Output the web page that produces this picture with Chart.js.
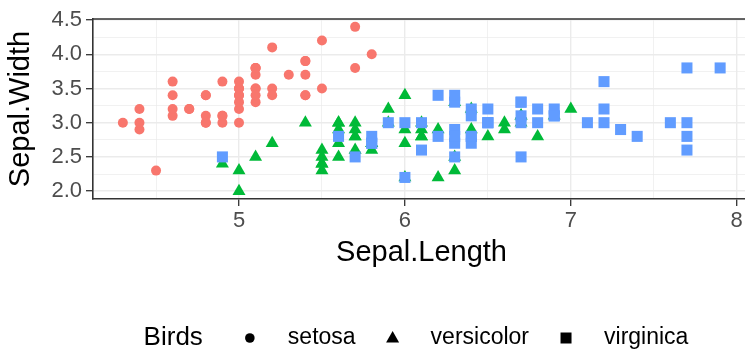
<!DOCTYPE html>
<html>
<head>
<meta charset="utf-8">
<script src="https://cdn.jsdelivr.net/npm/chart.js@4.4.0/dist/chart.umd.min.js"></script>
<style>
  html, body { margin: 0; padding: 0; background: #fff; overflow: hidden; }
</style>
</head>
<body>
<canvas id="canvas" width="760" height="349"></canvas>
<script>
"use strict";

// iris: Sepal.Length / Sepal.Width per species
const species = ["setosa", "versicolor", "virginica"];

const setosaX = [5.1,4.9,4.7,4.6,5.0,5.4,4.6,5.0,4.4,4.9,5.4,4.8,4.8,4.3,5.8,5.7,5.4,5.1,5.7,5.1,5.4,5.1,4.6,5.1,4.8,5.0,5.0,5.2,5.2,4.7,4.8,5.4,5.2,5.5,4.9,5.0,5.5,4.9,4.4,5.1,5.0,4.5,4.4,5.0,5.1,4.8,5.1,4.6,5.3,5.0];
const setosaY = [3.5,3.0,3.2,3.1,3.6,3.9,3.4,3.4,2.9,3.1,3.7,3.4,3.0,3.0,4.0,4.4,3.9,3.5,3.8,3.8,3.4,3.7,3.6,3.3,3.4,3.0,3.4,3.5,3.4,3.2,3.1,3.4,4.1,4.2,3.1,3.2,3.5,3.6,3.0,3.4,3.5,2.3,3.2,3.5,3.8,3.0,3.8,3.2,3.7,3.3];

const versicolorX = [7.0,6.4,6.9,5.5,6.5,5.7,6.3,4.9,6.6,5.2,5.0,5.9,6.0,6.1,5.6,6.7,5.6,5.8,6.2,5.6,5.9,6.1,6.3,6.1,6.4,6.6,6.8,6.7,6.0,5.7,5.5,5.5,5.8,6.0,5.4,6.0,6.7,6.3,5.6,5.5,5.5,6.1,5.8,5.0,5.6,5.7,5.7,6.2,5.1,5.7];
const versicolorY = [3.2,3.2,3.1,2.3,2.8,2.8,3.3,2.4,2.9,2.7,2.0,3.0,2.2,2.9,2.9,3.1,3.0,2.7,2.2,2.5,3.2,2.8,2.5,2.8,2.9,3.0,2.8,3.0,2.9,2.6,2.4,2.4,2.7,2.7,3.0,3.4,3.1,2.3,3.0,2.5,2.6,3.0,2.6,2.3,2.7,3.0,2.9,2.9,2.5,2.8];

const virginicaX = [6.3,5.8,7.1,6.3,6.5,7.6,4.9,7.3,6.7,7.2,6.5,6.4,6.8,5.7,5.8,6.4,6.5,7.7,7.7,6.0,6.9,5.6,7.7,6.3,6.7,7.2,6.2,6.1,6.4,7.2,7.4,7.9,6.4,6.3,6.1,7.7,6.3,6.4,6.0,6.9,6.7,6.9,5.8,6.8,6.7,6.7,6.3,6.5,6.2,5.9];
const virginicaY = [3.3,2.7,3.0,2.9,3.0,3.0,2.5,2.9,2.5,3.6,3.2,2.7,3.0,2.5,2.8,3.2,3.0,3.8,2.6,2.2,3.2,2.8,2.8,2.7,3.3,3.2,2.8,3.0,2.8,3.0,2.8,3.8,2.8,2.8,2.6,3.0,3.4,3.1,3.0,3.1,3.1,3.1,2.7,3.2,3.3,3.0,2.5,3.0,3.4,3.0];

// grid / tick positions (major ones get a label)
const xTicks = [4.5, 5, 5.5, 6, 6.5, 7, 7.5, 8];
const xMajor = [5, 6, 7, 8];
const yTicks = [2, 2.25, 2.5, 2.75, 3, 3.25, 3.5, 3.75, 4, 4.25, 4.5];
const yMajor = [2, 2.5, 3, 3.5, 4, 4.5];

const colors = ["#F8766D", "#00BA38", "#619CFF"];
const shapes = ["circle", "triangle", "rect"];
const radii = [5, 7.5, 7.8];

const FONT = "'Liberation Sans', Arial, Helvetica, sans-serif";
const AXIS = "#333333";

function pts(xs, ys) {
  return xs.map(function(x, i) { return { x: x, y: ys[i] }; });
}
const seriesData = [pts(setosaX, setosaY), pts(versicolorX, versicolorY), pts(virginicaX, virginicaY)];

function isMajor(list, v) {
  return list.some(function(m) { return Math.abs(m - v) < 1e-9; });
}

function gridOpts(major) {
  return {
    color: "#EBEBEB",
    lineWidth: function(c) { return c.tick && isMajor(major, c.tick.value) ? 1.4 : 0.7; },
    tickColor: function(c) { return c.tick && isMajor(major, c.tick.value) ? AXIS : "rgba(0,0,0,0)"; },
    tickLength: 7,
    tickWidth: 1.3,
    drawTicks: true
  };
}

// top/right panel border + legend at the bottom
const extras = {
  id: "extras",
  afterDraw: function(chart) {
    const ctx = chart.ctx;
    const a = chart.chartArea;
    ctx.save();
    ctx.strokeStyle = AXIS;
    ctx.lineWidth = 1.6;
    ctx.beginPath();
    ctx.moveTo(a.left, a.top);
    ctx.lineTo(a.right, a.top);
    ctx.lineTo(a.right, a.bottom);
    ctx.stroke();

    // legend
    const y = 338;
    ctx.fillStyle = "#000";
    ctx.textBaseline = "middle";
    ctx.font = "26px " + FONT;
    const titleW = ctx.measureText("Birds").width;
    ctx.font = "23px " + FONT;
    const labW = species.map(function(s) { return ctx.measureText(s).width; });
    let total = titleW + 47;
    labW.forEach(function(w, i) { total += 38 + w + (i < labW.length - 1 ? 37 : 0); });
    let x = 416 - total / 2;
    ctx.font = "26px " + FONT;
    ctx.fillText("Birds", x, y);
    x += titleW + 47;
    ctx.font = "23px " + FONT;
    species.forEach(function(s, i) {
      ctx.beginPath();
      if (shapes[i] === "circle") {
        ctx.arc(x, y, 4.8, 0, Math.PI * 2);
      } else if (shapes[i] === "triangle") {
        ctx.moveTo(x, y - 7);
        ctx.lineTo(x + 6.5, y + 4.5);
        ctx.lineTo(x - 6.5, y + 4.5);
        ctx.closePath();
      } else {
        ctx.rect(x - 5.5, y - 5.5, 11, 11);
      }
      ctx.fill();
      x += 38;
      ctx.fillText(s, x, y);
      x += labW[i] + 37;
    });
    ctx.restore();
  }
};

new Chart(document.getElementById("canvas"), {
  type: "scatter",
  data: {
    datasets: species.map(function(s, i) {
      return {
        label: s,
        data: seriesData[i],
        backgroundColor: colors[i],
        borderColor: colors[i],
        pointStyle: shapes[i],
        pointRadius: radii[i],
        pointHoverRadius: radii[i],
        pointBorderWidth: 0,
        order: 2 - i
      };
    })
  },
  options: {
    responsive: false,
    animation: false,
    layout: { padding: { left: 0, top: 19, right: 10, bottom: 79 } },
    plugins: {
      legend: { display: false },
      tooltip: { enabled: false }
    },
    scales: {
      x: {
        type: "linear",
        min: 4.12,
        max: 8.08,
        afterBuildTicks: function(scale) {
          scale.ticks = xTicks.map(function(v) { return { value: v }; });
        },
        afterFit: function(scale) { scale.height = 71; },
        grid: gridOpts(xMajor),
        border: { display: true, color: AXIS, width: 1.6 },
        ticks: {
          autoSkip: false,
          maxRotation: 0,
          padding: 2,
          color: "#4D4D4D",
          font: { family: FONT, size: 22 },
          callback: function(v) { return isMajor(xMajor, v) ? String(v) : ""; }
        },
        title: {
          display: true,
          text: "Sepal.Length",
          color: "#000",
          font: { family: FONT, size: 29 },
          padding: { top: 0, bottom: 0 }
        }
      },
      y: {
        type: "linear",
        min: 1.885,
        max: 4.515,
        afterBuildTicks: function(scale) {
          scale.ticks = yTicks.map(function(v) { return { value: v }; });
        },
        afterFit: function(scale) { scale.width = 93; },
        grid: gridOpts(yMajor),
        border: { display: true, color: AXIS, width: 1.6 },
        ticks: {
          autoSkip: false,
          padding: 4,
          color: "#4D4D4D",
          font: { family: FONT, size: 22 },
          callback: function(v) { return isMajor(yMajor, v) ? v.toFixed(1) : ""; }
        },
        title: {
          display: true,
          text: "Sepal.Width",
          color: "#000",
          font: { family: FONT, size: 29 },
          padding: { top: 4, bottom: 0 }
        }
      }
    }
  },
  plugins: [extras]
});
</script>
</body>
</html>
